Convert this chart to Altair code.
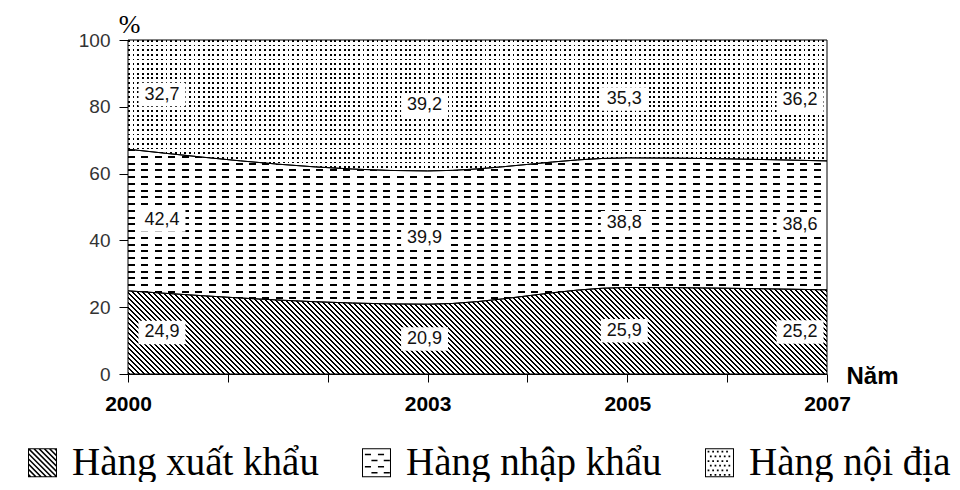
import json
import altair as alt
import pandas as pd

# ---------------- data ----------------
YEARS = [2000, 2003, 2005, 2007]
SERIES = ["Hàng xuất khẩu", "Hàng nhập khẩu", "Hàng nội địa"]
XUAT_KHAU = [24.9, 20.9, 25.9, 25.2]
NHAP_KHAU = [42.4, 39.9, 38.8, 38.6]
NOI_DIA = [32.7, 39.2, 35.3, 36.2]
Y_TICKS = [0, 20, 40, 60, 80, 100]
X_TICKS = list(range(2000, 2008))
X_LABELS = [2000, 2003, 2005, 2007]

# ---------------- layout ----------------
W, H = 699, 334
PAD = {"left": 120, "top": 32, "right": 125, "bottom": 108}
KY = H / 100.0

rows = []
base = [0.0] * len(YEARS)
for name, vals in zip(SERIES, [XUAT_KHAU, NHAP_KHAU, NOI_DIA]):
    for i, yr in enumerate(YEARS):
        lo = base[i]
        up = lo + vals[i]
        rows.append(dict(year=yr, series=name, value=vals[i], lower=lo, upper=up,
                         mid=(lo + up) / 2, label=f"{vals[i]:.1f}".replace(".", ",")))
    base = [base[i] + vals[i] for i in range(len(YEARS))]
df = pd.DataFrame(rows)


def stripe_stops(n, frac, on, off):
    stops = []
    for i in range(n):
        a, b, c = i / n, (i + frac) / n, (i + 1) / n
        stops += [{"offset": round(a, 6), "color": on}, {"offset": round(b, 6), "color": on},
                  {"offset": round(b, 6), "color": off}, {"offset": round(c, 6), "color": off}]
    return stops


CLEAR = "rgba(255,255,255,0)"

# series A: diagonal hatch
hA = max(XUAT_KHAU) * KY
r = hA / W
s = (1 + r) / (1 + r * r)
gradA = {"gradient": "linear", "x1": 0, "y1": 1, "x2": s, "y2": 1 - s * r,
         "stops": stripe_stops(round((W + hA) / 5.0), 0.42, "black", "white")}

# series B: dashed rows
lowB = XUAT_KHAU
upB = [a + b for a, b in zip(XUAT_KHAU, NHAP_KHAU)]
hB = (max(upB) - min(lowB)) * KY
gradB = {"gradient": "linear", "x1": 1, "y1": 0, "x2": 1, "y2": 1,
         "stops": stripe_stops(round(hB / 6.7), 0.3, "black", "white")}
overB = {"gradient": "linear", "x1": 0, "y1": 0, "x2": 1, "y2": 0,
         "stops": stripe_stops(round(W / 13.5), 0.52, CLEAR, "white")}

# series C: dots
lowC = upB
hC = (100 - min(lowC)) * KY
gradC = {"gradient": "linear", "x1": 1, "y1": 0, "x2": 1, "y2": 1,
         "stops": stripe_stops(round(hC / 4.7), 0.38, "black", "white")}
overC = {"gradient": "linear", "x1": 0, "y1": 0, "x2": 1, "y2": 0,
         "stops": stripe_stops(round(W / 4.7), 0.38, CLEAR, "white")}

# ---------------- scales / axes ----------------
xscale = alt.Scale(domain=[2000, 2007], nice=False, zero=False)
yscale = alt.Scale(domain=[0, 100], nice=False)

x_axis = alt.Axis(values=X_TICKS,
                  labelExpr=f"indexof({json.dumps(X_LABELS)}, datum.value) >= 0 ? '' + datum.value : ''",
                  labelFont="Liberation Sans", labelFontSize=21, labelFontWeight="bold",
                  labelColor="black", labelPadding=11, labelFlush=False, labelOverlap=False,
                  tickSize=8, tickColor="black", domainColor="black", grid=False,
                  title="Năm", titleFont="Liberation Sans", titleFontSize=24,
                  titleFontWeight="bold", titleColor="black", titleX=718, titleY=2,
                  titleAlign="left", titleBaseline="middle")
y_axis = alt.Axis(values=Y_TICKS, labelFont="Liberation Sans", labelFontSize=19,
                  labelColor="#333333", labelPadding=9, tickSize=9, tickColor="black",
                  domainColor="black", grid=False,
                  title="%", titleFont="Liberation Serif", titleFontSize=26,
                  titleFontWeight="normal", titleColor="black", titleAngle=0,
                  titleX=1, titleY=-16, titleAlign="center", titleBaseline="middle")

X = alt.X("year:Q", scale=xscale, axis=x_axis)
Y = alt.Y("upper:Q", scale=yscale, axis=y_axis, stack=None)
Y2 = alt.Y2("lower:Q")

root = alt.Chart(df)


def only(name):
    return alt.FieldEqualPredicate(field="series", equal=name)


def band(name, grad):
    return root.transform_filter(only(name)).mark_area(
        fill=grad, interpolate="monotone").encode(x=X, y=Y, y2=Y2)


baseA = band(SERIES[0], gradA)
baseB = band(SERIES[1], gradB)
overlayB = band(SERIES[1], overB)
baseC = band(SERIES[2], gradC)
overlayC = band(SERIES[2], overC)

outline = root.mark_area(fillOpacity=0, stroke="black", strokeWidth=1,
                         interpolate="monotone").encode(x=X, y=Y, y2=Y2, detail="series:N")


# ---------------- legend symbol shapes (unit square paths) ----------------
def poly_path(pts):
    return "M" + "L".join(f"{x:.3f},{y:.3f}" for x, y in pts) + "Z"


def rect(x0, y0, x1, y1):
    return poly_path([(x0, y0), (x1, y0), (x1, y1), (x0, y1)])


def hole(x0, y0, x1, y1):
    return poly_path([(x0, y0), (x0, y1), (x1, y1), (x1, y0)])


def clip(pts, a, b, c):
    # keep a*x + b*y <= c
    out = []
    n = len(pts)
    for i in range(n):
        p, q = pts[i], pts[(i + 1) % n]
        fp, fq = a * p[0] + b * p[1] - c, a * q[0] + b * q[1] - c
        if fp <= 0:
            out.append(p)
        if (fp < 0 < fq) or (fq < 0 < fp):
            t = fp / (fp - fq)
            out.append((p[0] + t * (q[0] - p[0]), p[1] + t * (q[1] - p[1])))
    return out


E = 0.93
frame = rect(-1, -1, 1, 1) + hole(-E, -E, E, E)
inner = [(-E, -E), (E, -E), (E, E), (-E, E)]

hatch_path = frame
period, thick = 0.36, 0.15
c0 = -2 * E
while c0 < 2 * E:
    pts = clip(clip(inner, 1, -1, c0 + thick), -1, 1, -c0)
    if len(pts) >= 3:
        hatch_path += poly_path(pts)
    c0 += period

dash_path = frame
for k, yy in enumerate([-0.62, -0.2, 0.22, 0.64]):
    starts = [-0.8, 0.1] if k % 2 == 0 else [-0.35, 0.5]
    for x0 in starts:
        dash_path += rect(x0, yy, x0 + 0.42, yy + 0.1)

dot_path = frame
for k in range(6):
    yy = -0.82 + k * 0.32
    xx = -0.82 + (0.0 if k % 2 == 0 else 0.16)
    while xx + 0.12 < 0.9:
        dot_path += rect(xx, yy, xx + 0.12, yy + 0.12)
        xx += 0.32

legend = alt.Legend(
    title=None, orient="none", legendX=-105, legendY=403, direction="horizontal",
    symbolSize=841, symbolOpacity=1, symbolFillColor="black", symbolStrokeWidth=0,
    labelFont="Liberation Serif", labelFontSize=39, labelColor="black",
    labelOffset=10, labelLimit=0, columnPadding=38, padding=0,
)

legend_carrier = root.mark_point(filled=True, fill="black", opacity=0, strokeWidth=0).encode(
    x=X, y=Y,
    shape=alt.Shape("series:N",
                    scale=alt.Scale(domain=SERIES, range=[hatch_path, dash_path, dot_path]),
                    legend=legend),
)

# ---------------- value labels ----------------
LX = alt.X("lx:Q", scale=xscale, axis=x_axis)
LY = alt.Y("mid:Q", scale=yscale, axis=y_axis)
lab = root.transform_calculate(
    lx="datum.year + (datum.year == 2000 ? 0.34 : datum.year == 2007 ? -0.27 : -0.03)")

boxes = lab.mark_point(shape="M-1,-0.5H1V0.5H-1Z", size=2209, filled=True,
                       fill="white", opacity=1, strokeWidth=0).encode(x=LX, y=LY)
texts = lab.mark_text(font="Liberation Sans", fontSize=18, color="#111111").encode(
    x=LX, y=LY, text="label:N")

chart = alt.layer(baseA, baseB, overlayB, baseC, overlayC, outline, legend_carrier,
                  boxes, texts).properties(
    width=W, height=H, autosize=alt.AutoSizeParams(type="none"), padding=PAD,
).configure_view(stroke=None)

chart.save("out.html", embed_options={"renderer": "svg", "actions": False})
